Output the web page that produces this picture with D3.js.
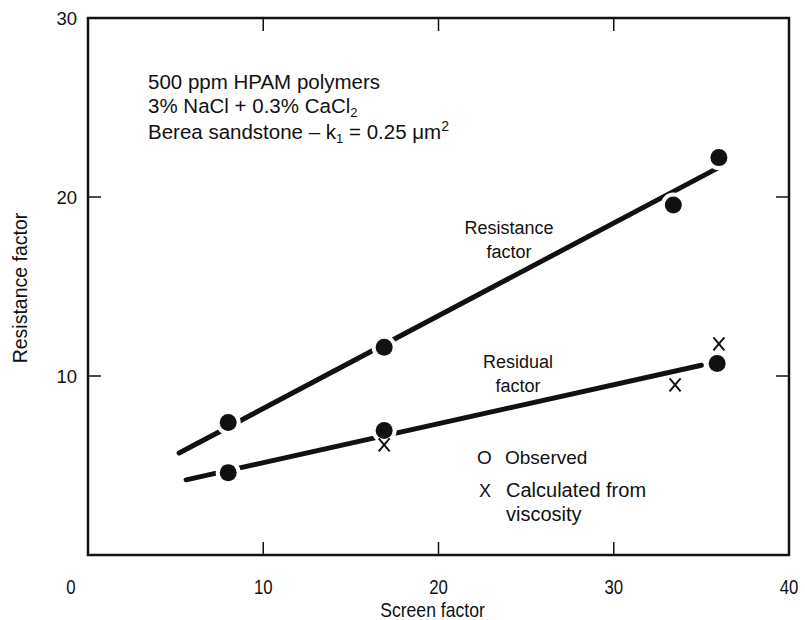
<!DOCTYPE html>
<html>
<head>
<meta charset="utf-8">
<script src="https://cdn.jsdelivr.net/npm/d3@7"></script>
<style>
  body { margin: 0; background: #fff; }
  text { font-family: "Liberation Sans", Arial, sans-serif; fill: #111; }
</style>
</head>
<body>
<div id="chart"></div>
<script>
// values
var resistanceObs = [[8, 7.4], [16.9, 11.6], [33.4, 19.55], [36, 22.2]];
var residualObs = [[8, 4.6], [16.9, 6.95], [35.9, 10.7]];
var calculated = [[8, 4.6], [16.9, 6.15], [33.5, 9.5], [36, 11.8]];
var resistanceFit = [[5.2, 5.7], [35.9, 21.6]];
var residualFit = [[5.6, 4.2], [35.0, 10.6]];
var xTicks = [0, 10, 20, 30, 40];
var yTicks = [10, 20, 30];

const margin = {top: 18, right: 16, bottom: 65, left: 88},
    width = 805 - margin.left - margin.right,
    height = 620 - margin.top - margin.bottom;

const svg = d3.select("#chart")
  .append("svg")
    .attr("width", 805)
    .attr("height", 620)
  .append("g")
    .attr("transform", `translate(${margin.left},${margin.top})`);

const x = d3.scaleLinear().domain([0, 40]).range([0, width]);
const y = d3.scaleLinear().domain([0, 30]).range([height, 0]);

// frame
svg.append("rect")
  .attr("width", width).attr("height", height)
  .attr("fill", "none").attr("stroke", "#111").attr("stroke-width", 2.5);

// inward ticks on all four sides
const tk = 13;
xTicks.slice(1, -1).forEach(function(v) {
  svg.append("line").attr("x1", x(v)).attr("x2", x(v)).attr("y1", height).attr("y2", height - tk)
    .attr("stroke", "#111").attr("stroke-width", 1.5);
  svg.append("line").attr("x1", x(v)).attr("x2", x(v)).attr("y1", 0).attr("y2", tk)
    .attr("stroke", "#111").attr("stroke-width", 1.5);
});
yTicks.slice(0, -1).forEach(function(v) {
  svg.append("line").attr("x1", 0).attr("x2", tk).attr("y1", y(v)).attr("y2", y(v))
    .attr("stroke", "#111").attr("stroke-width", 1.5);
  svg.append("line").attr("x1", width).attr("x2", width - tk).attr("y1", y(v)).attr("y2", y(v))
    .attr("stroke", "#111").attr("stroke-width", 1.5);
});

// tick labels (x ones are a condensed face in the original)
svg.selectAll(".xt").data(xTicks).enter().append("text")
  .attr("transform", function(d) {
    var px = d == 0 ? -17 : x(d);
    return `translate(${px},${height + 39}) scale(0.8,1)`;
  })
  .attr("text-anchor", "middle")
  .style("font-size", "21px")
  .text(function(d) { return d; });
svg.selectAll(".yt").data(yTicks).enter().append("text")
  .attr("x", -11)
  .attr("y", function(d) { return y(d) + 7; })
  .attr("text-anchor", "end")
  .style("font-size", "18.5px")
  .text(function(d) { return d; });

// axis titles
svg.append("text")
  .attr("transform", `translate(${width / 2 - 6},${height + 62}) scale(0.88,1)`)
  .attr("text-anchor", "middle")
  .style("font-size", "20px")
  .text("Screen factor");
svg.append("text")
  .attr("transform", "rotate(-90)")
  .attr("x", -270)
  .attr("y", -61)
  .attr("text-anchor", "middle")
  .style("font-size", "19.5px")
  .text("Resistance factor");

// fit lines
const line = d3.line().x(function(d) { return x(d[0]); }).y(function(d) { return y(d[1]); });
[resistanceFit, residualFit].forEach(function(f) {
  svg.append("path").datum(f)
    .attr("fill", "none").attr("stroke", "#111").attr("stroke-width", 5)
    .attr("stroke-linecap", "round")
    .attr("d", line);
});

// observed (filled circles, white halo breaks the line)
svg.selectAll(".ob").data(resistanceObs.concat(residualObs)).enter().append("circle")
  .attr("cx", function(d) { return x(d[0]); })
  .attr("cy", function(d) { return y(d[1]); })
  .attr("r", 8.5)
  .attr("fill", "#111")
  .attr("stroke", "#fff").attr("stroke-width", 8)
  .attr("paint-order", "stroke");

// calculated (X)
svg.selectAll(".cx").data(calculated).enter().append("path")
  .attr("transform", function(d) { return `translate(${x(d[0])},${y(d[1])})`; })
  .attr("d", "M-5.5,-6.5L5.5,6.5M5.5,-6.5L-5.5,6.5")
  .attr("stroke", "#111").attr("stroke-width", 2).attr("fill", "none");

// annotation block
var ax = 60;
var notes = svg.append("text").attr("x", ax).attr("y", 71).style("font-size", "20.5px");
notes.append("tspan").attr("x", ax).attr("dy", 0).text("500 ppm HPAM polymers");
notes.append("tspan").attr("x", ax).attr("dy", 24).text("3% NaCl + 0.3% CaCl");
notes.append("tspan").attr("dy", 4).style("font-size", "13px").text("2");
notes.append("tspan").attr("x", ax).attr("dy", 22).text("Berea sandstone \u2013 k");
notes.append("tspan").attr("dy", 4).style("font-size", "13px").text("1");
notes.append("tspan").attr("dy", -4).text(" = 0.25 \u03bcm");
notes.append("tspan").attr("dy", -8).style("font-size", "14px").text("2");

// series labels
function label(lines, cx, cy) {
  lines.forEach(function(s, i) {
    svg.append("text").attr("x", cx).attr("y", cy + i * 24)
      .attr("text-anchor", "middle").style("font-size", "18px").text(s);
  });
}
label(["Resistance", "factor"], 509 - margin.left, 234 - margin.top);
label(["Residual", "factor"], 518 - margin.left, 368 - margin.top);

// legend
var lg = svg.append("g").attr("transform", `translate(${477 - margin.left},0)`);
lg.append("text").attr("x", 0).attr("y", 464 - margin.top).style("font-size", "19px").text("O");
lg.append("text").attr("x", 28).attr("y", 464 - margin.top).style("font-size", "19px").text("Observed");
lg.append("text").attr("x", 2).attr("y", 497 - margin.top).style("font-size", "18px").text("X");
lg.append("text").attr("x", 29).attr("y", 497 - margin.top).style("font-size", "20px").text("Calculated from");
lg.append("text").attr("x", 29).attr("y", 521 - margin.top).style("font-size", "20px").text("viscosity");
</script>
</body>
</html>
